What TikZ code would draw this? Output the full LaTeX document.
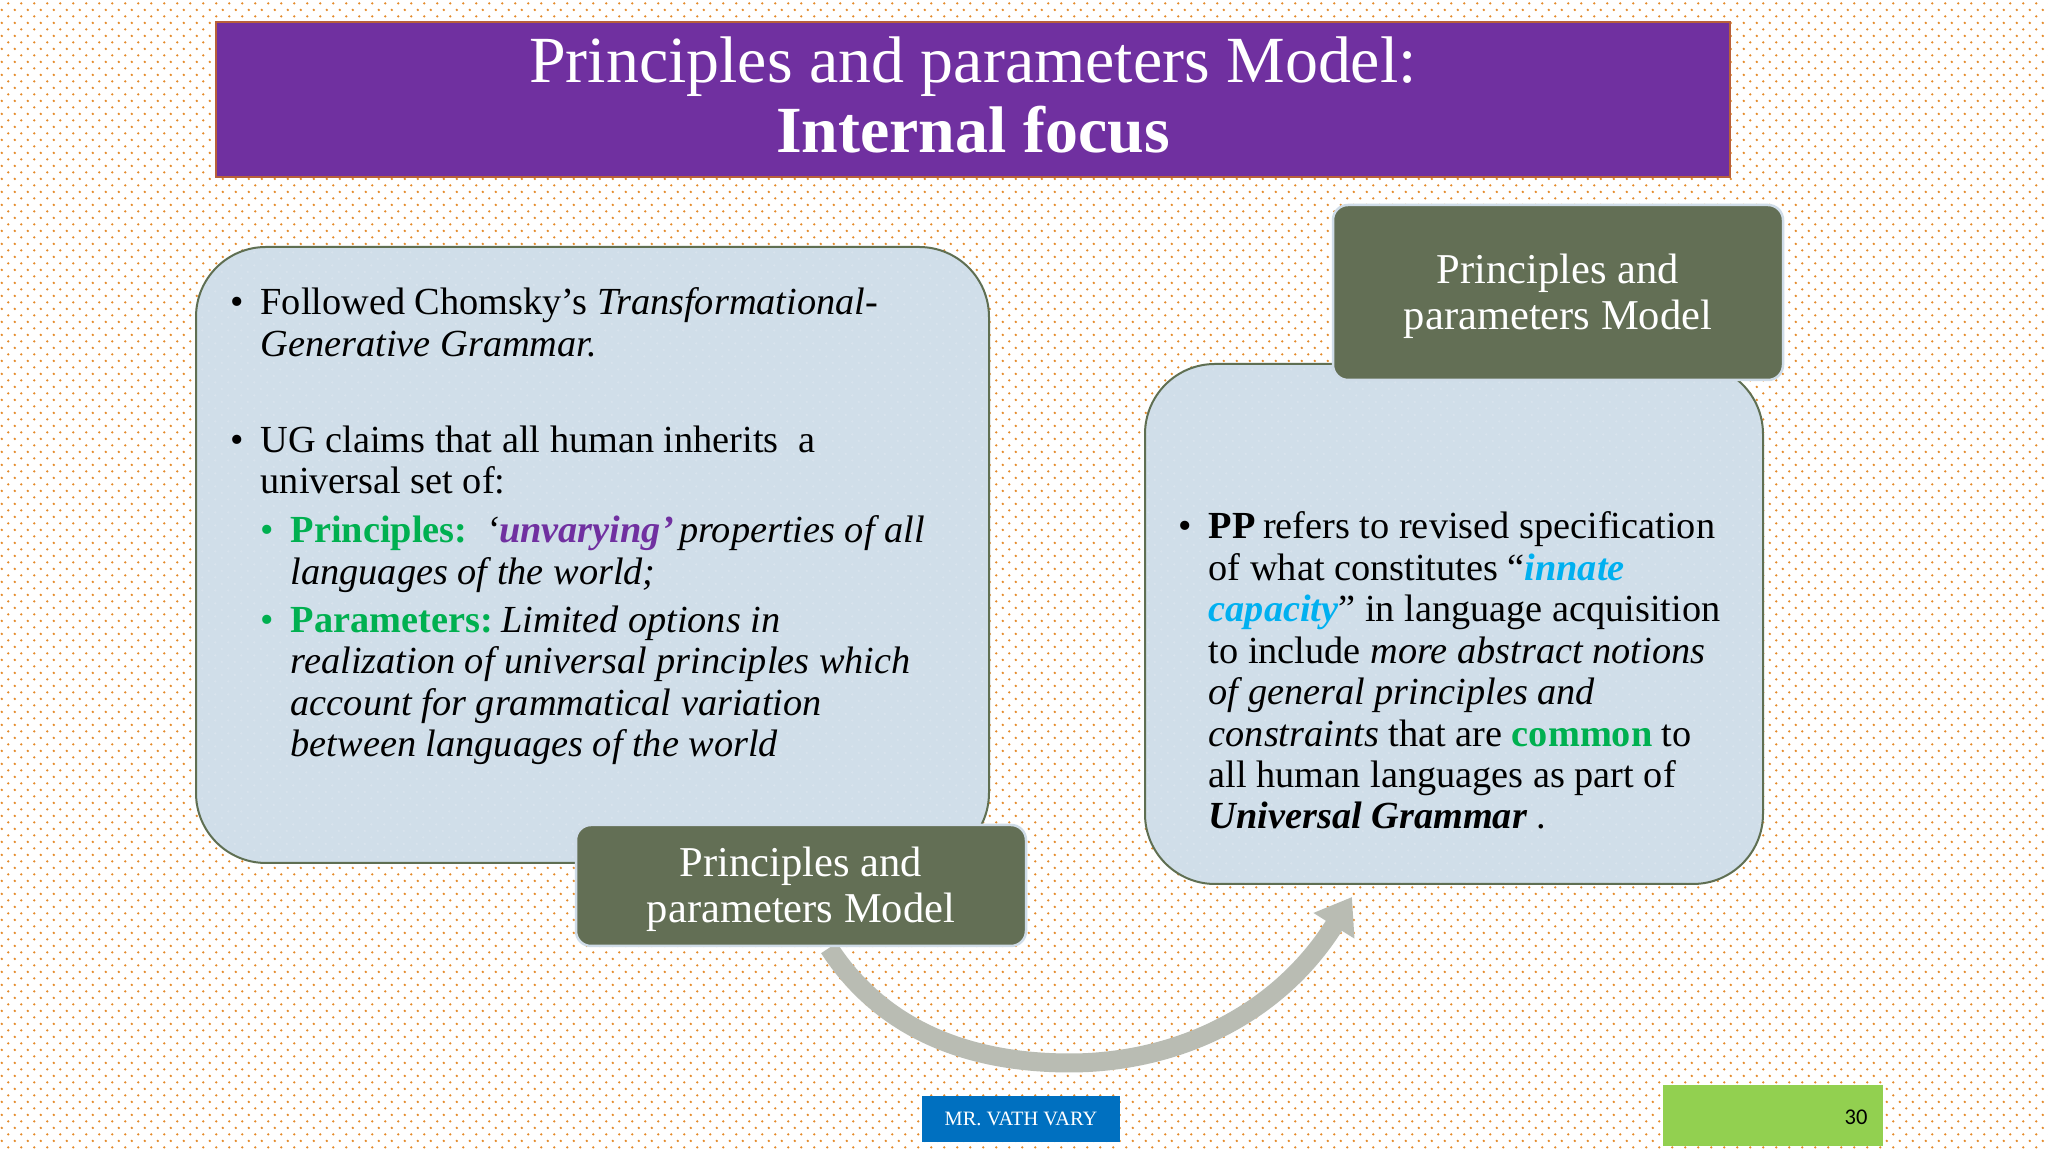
\documentclass[tikz,border=0pt]{standalone}
\usepackage{fontspec}
\setmainfont{Liberation Serif}
\setsansfont{Carlito}
\usepackage{xcolor}
\usetikzlibrary{calc,shapes,arrows.meta,patterns}

\definecolor{dotorange}{HTML}{E48A2A}
\definecolor{titlepurple}{HTML}{7030A0}
\definecolor{titleedge}{HTML}{B8603A}
\definecolor{boxblue}{HTML}{D0DEE9}
\definecolor{boxdot}{HTML}{D8E3ED}
\definecolor{boxedge}{HTML}{5F6F52}
\definecolor{tagedge}{HTML}{CFDCE8}
\definecolor{tagolive}{HTML}{636F55}
\definecolor{arcgrey}{HTML}{B9BCB3}
\definecolor{footblue}{HTML}{0070C0}
\definecolor{footgreen}{HTML}{92D050}
\definecolor{wordgreen}{HTML}{00B050}
\definecolor{wordcyan}{HTML}{00B0F0}

\pgfdeclarepatternformonly{slidedots}{\pgfqpoint{0pt}{0pt}}{\pgfpoint{0.1296cm}{0.12944cm}}{\pgfpoint{0.1296cm}{0.12944cm}}{
	\pgfpathcircle{\pgfpoint{0.083cm}{0.0463cm}}{0.013cm}
	\pgfpathcircle{\pgfpoint{0.018cm}{0.111cm}}{0.013cm}
	\pgfusepath{fill}
}

\newcommand{\bul}{\llap{\textbullet\hspace{0.17cm}}}
\newcommand{\subbul}{\llap{\textcolor{wordgreen}{\textbullet}\hspace{0.17cm}}}

\tikzset{
	softbox/.style={draw=boxedge, line width=0.02cm, rounded corners=0.7cm, preaction={fill=boxblue}, pattern=slidedots, pattern color=boxdot},
	tagbox/.style={draw=tagedge, line width=0.025cm, rounded corners=0.15cm, fill=tagolive},
	tagtext/.style={text=white, align=center, inner sep=0pt, yshift=-0.04cm, font=\fontsize{12.1}{13.1}\selectfont},
	titletext/.style={text=white, align=center, inner sep=0pt, yshift=0.04cm, font=\fontsize{18.75}{19.9}\selectfont},
	bodytext/.style={anchor=north west, inner sep=0pt, align=left, font=\fontsize{10.9}{11.8}\selectfont},
	arcarrow/.style={draw=arcgrey, line width=0.19cm, -{Triangle[width=0.46cm,length=0.34cm]}}
}

\begin{document}
\begin{tikzpicture}
	\useasboundingbox (0, 0) rectangle (20.48, 11.52);
	\fill[white] (0, 0) rectangle (20.48, 11.52);
	\fill[pattern=slidedots, pattern color=dotorange] (0, 0) rectangle (20.48, 11.52);

	\draw (9.73, 10.525) node[draw=titleedge, line width=0.025cm, fill=titlepurple, minimum width=15.14cm, minimum height=1.55cm, label={[titletext]center:Principles and parameters Model:\\ \textbf{Internal focus}}] (titlebar) {};

	\draw (5.925, 5.97) node[softbox, minimum width=7.93cm, minimum height=6.16cm] (leftbox) {};
	\draw (14.54, 5.28) node[softbox, minimum width=6.18cm, minimum height=5.20cm] (rightbox) {};

	\coordinate (arcstart) at (8.29, 2.04);
	\coordinate (arclow) at (10.70, 0.89);
	\coordinate (arctip) at (13.52, 2.55);
	\draw[arcarrow] (arcstart) .. controls (8.85, 1.18) and (9.75, 0.89) .. (arclow) .. controls (11.70, 0.89) and (12.75, 1.32) .. (arctip);

	\draw (8.01, 2.665) node[tagbox, minimum width=4.50cm, minimum height=1.21cm, label={[tagtext]center:Principles and\\ parameters Model}] (lefttag) {};
	\draw (15.58, 8.595) node[tagbox, minimum width=4.50cm, minimum height=1.75cm, label={[tagtext]center:Principles and\\ parameters Model}] (righttag) {};

	\draw (2.60, 8.65) node[bodytext] (followed) {\bul Followed Chomsky’s \textit{Transformational-}\\ \textit{Generative Grammar.}};
	\draw (2.60, 7.27) node[bodytext] (ugclaim) {\bul UG claims that all human inherits\ \ a\\ universal set of:};
	\draw (2.90, 6.37) node[bodytext] (principles) {\subbul\textcolor{wordgreen}{\textbf{Principles:}}\ \ \textit{‘\textcolor{titlepurple}{\textbf{unvarying}}\textcolor{titlepurple}{\textbf{’}}\hspace{-0.04cm} properties of all}\\ \textit{languages of the world;}};
	\draw (2.90, 5.47) node[bodytext] (parameters) {\subbul\textcolor{wordgreen}{\textbf{Parameters:}}\hspace{-0.04cm} \textit{Limited options in}\\ \textit{realization of universal principles which}\\ \textit{account for grammatical variation}\\ \textit{between languages of the world}};

	\draw (12.08, 6.41) node[bodytext] (ppitem) {\bul\textbf{PP}\hspace{-0.02cm} refers to revised specification\\ of what constitutes “\textcolor{wordcyan}{\textbf{\textit{innate}}}\\ \textcolor{wordcyan}{\textbf{\textit{capacity}}}” in language acquisition\\ to include \textit{more abstract notions}\\ \textit{of general principles and}\\ \textit{constraints} that are \textcolor{wordgreen}{\textbf{common}} to\\ all human languages as part of\\ \textbf{\textit{Universal Grammar}} .};

	\draw (10.21, 0.33) node[fill=footblue, text=white, minimum width=1.98cm, minimum height=0.46cm, inner sep=0pt, font=\fontsize{5.8}{6}\selectfont] (presenter) {MR. VATH VARY};
	\draw (17.73, 0.365) node[fill=footgreen, minimum width=2.20cm, minimum height=0.61cm, inner sep=0pt] (pagebar) {};
	\draw (18.56, 0.35) node[inner sep=0pt, font=\sffamily\fontsize{6.4}{7}\selectfont] (pagenum) {30};
\end{tikzpicture}
\end{document}
